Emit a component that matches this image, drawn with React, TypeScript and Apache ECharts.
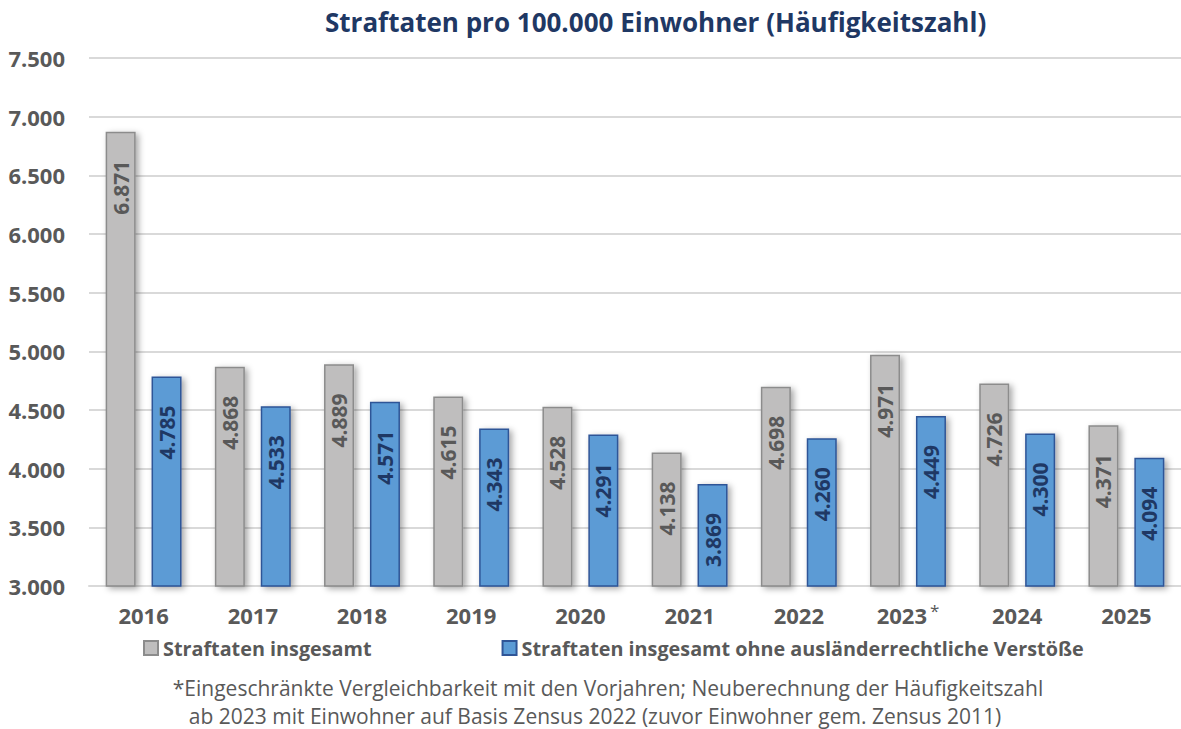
import React, { useEffect, useRef } from "react";
import * as echarts from "echarts";

const years = ["2016", "2017", "2018", "2019", "2020", "2021", "2022", "2023", "2024", "2025"];
const totalValues = [6871, 4868, 4889, 4615, 4528, 4138, 4698, 4971, 4726, 4371];
const withoutForeignValues = [4785, 4533, 4571, 4343, 4291, 3869, 4260, 4449, 4300, 4094];
const seriesNames = ["Straftaten insgesamt", "Straftaten insgesamt ohne ausländerrechtliche Verstöße"];
const titleText = "Straftaten pro 100.000 Einwohner (Häufigkeitszahl)";
const footnoteLines = [
  "*Eingeschränkte Vergleichbarkeit mit den Vorjahren; Neuberechnung der Häufigkeitszahl",
  "ab 2023 mit Einwohner auf Basis Zensus 2022 (zuvor Einwohner gem. Zensus 2011)",
];
const starredYear = "2023";

const FONT = "'Open Sans', sans-serif";
const fmt = (v: number) => {
  const s = String(Math.round(v));
  return s.length > 3 ? s.slice(0, s.length - 3) + "." + s.slice(s.length - 3) : s;
};

export default function App() {
  const ref = useRef<HTMLDivElement>(null);
  useEffect(() => {
    if (!ref.current) return;
    const chart = echarts.init(ref.current, null, { renderer: "svg" });
    const shadow = {
      shadowBlur: 6,
      shadowOffsetX: 3,
      shadowOffsetY: 2,
      shadowColor: "rgba(0,0,0,0.35)",
    };
    const barLabel = (color: string) => ({
      show: true,
      position: "insideTop",
      rotate: 90,
      align: "right",
      verticalAlign: "middle",
      distance: 29,
      fontFamily: FONT,
      fontWeight: "bold",
      fontSize: 21,
      color,
      formatter: (p: any) => fmt(p.value),
    });
    chart.setOption({
      animation: false,
      backgroundColor: "#ffffff",
      title: {
        text: titleText,
        left: 320,
        top: 4,
        textStyle: { fontFamily: FONT, fontWeight: "bold", fontSize: 26, color: "#1f3864" },
      },
      grid: { left: 89, top: 58, width: 1094, height: 528 },
      legend: {
        left: 138,
        top: 633,
        itemWidth: 14,
        itemHeight: 14,
        itemGap: 130,
        icon: "rect",
        textStyle: { fontFamily: FONT, fontWeight: "bold", fontSize: 19.8, color: "#595959" },
        data: seriesNames,
      },
      xAxis: {
        type: "category",
        data: years,
        axisLine: { show: true, lineStyle: { color: "#d9d9d9", width: 2 } },
        axisTick: { show: false },
        axisLabel: {
          interval: 0,
          margin: 16,
          fontFamily: FONT,
          fontWeight: "bold",
          fontSize: 22,
          lineHeight: 26,
          color: "#595959",
          formatter: (v: string) => (v === starredYear ? "{y|" + v + "}{sup|*}" : "{y|" + v + "}"),
          rich: {
            y: {
              fontFamily: FONT,
              fontWeight: "bold",
              fontSize: 22,
              lineHeight: 26,
              color: "#595959",
            },
            sup: {
              fontFamily: FONT,
              fontWeight: "normal",
              fontSize: 17,
              lineHeight: 14,
              color: "#595959",
              verticalAlign: "top",
              padding: [0, 0, 0, 3],
            },
          },
        },
      },
      yAxis: {
        type: "value",
        min: 3000,
        max: 7500,
        interval: 500,
        axisLine: { show: false },
        axisTick: { show: false },
        splitLine: { lineStyle: { color: "#d9d9d9", width: 2 } },
        axisLabel: {
          margin: 24,
          fontFamily: FONT,
          fontWeight: "bold",
          fontSize: 22,
          color: "#595959",
          formatter: (v: number) => fmt(v),
        },
      },
      series: [
        {
          name: seriesNames[0],
          type: "bar",
          data: totalValues,
          barWidth: 30,
          barGap: "53%",
          itemStyle: { color: "#bfbebe", borderColor: "#8c8c8c", borderWidth: 1.5, ...shadow },
          label: barLabel("#595959"),
        },
        {
          name: seriesNames[1],
          type: "bar",
          data: withoutForeignValues,
          barWidth: 30,
          barGap: "53%",
          itemStyle: { color: "#5b9bd5", borderColor: "#2f5597", borderWidth: 1.5, ...shadow },
          label: barLabel("#1f3864"),
        },
      ],
      graphic: footnoteLines.map((line, i) => ({
        type: "text",
        x: i === 0 ? 608 : 595,
        y: 688 + i * 28,
        style: {
          text: line,
          fontFamily: FONT,
          fontSize: 21,
          fill: "#595959",
          textAlign: "center",
          textVerticalAlign: "middle",
        },
      })),
    });
    return () => chart.dispose();
  }, []);
  return (
    <div
      ref={ref}
      style={{ position: "absolute", left: 0, top: 0, width: 1181, height: 729 }}
    />
  );
}
